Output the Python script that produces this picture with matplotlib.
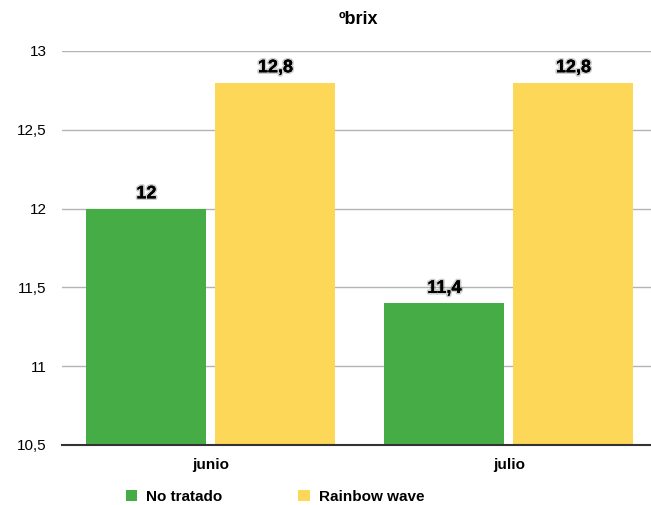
import matplotlib
matplotlib.use("Agg")
import matplotlib.pyplot as plt
import matplotlib.patheffects as pe
import numpy as np

months = ["junio", "julio"]
no_tratado = [12.0, 11.4]
rainbow = [12.8, 12.8]
yticks = [10.5, 11, 11.5, 12, 12.5, 13]

GREEN = "#46ac45"
YELLOW = "#fdd758"

plt.rcParams["font.family"] = ["Liberation Sans", "DejaVu Sans"]

fig = plt.figure(figsize=(6.51, 5.05), dpi=100)
# axes runs a bit past the right edge, as in the original export
ax = fig.add_axes([62 / 651, 60 / 505, 596 / 651, 394 / 505])

x = np.arange(len(months))
w = 0.403
b1 = ax.bar(x - 0.217, np.array(no_tratado) - 10.5, w, bottom=10.5, color=GREEN, zorder=3)
b2 = ax.bar(x + 0.216, np.array(rainbow) - 10.5, w, bottom=10.5, color=YELLOW, zorder=3)

for bars, vals in ((b1, no_tratado), (b2, rainbow)):
    for r, v in zip(bars, vals):
        t = ax.text(r.get_x() + r.get_width() / 2, v + 0.04, f"{v:g}".replace(".", ","),
                    ha="center", va="bottom", fontsize=13, fontweight="bold", zorder=5)
        t.set_path_effects([pe.withStroke(linewidth=2.5, foreground="#00000033"), pe.Normal()])

ax.set_xlim(-0.5, 1.5)
ax.set_ylim(10.5, 13)
ax.set_yticks(yticks)
ax.set_yticklabels([f"{v:g}".replace(".", ",") for v in yticks], fontsize=11)
ax.set_xticks(x)
ax.set_xticklabels(months, fontsize=11, fontweight="bold")
ax.tick_params(length=0, pad=9)
ax.tick_params(axis="y", pad=11)
ax.grid(axis="y", color="#b4b4b4", linewidth=1, zorder=0)
for s in ("top", "right", "left"):
    ax.spines[s].set_visible(False)
ax.spines["bottom"].set_color("#333333")
ax.spines["bottom"].set_linewidth(1.5)
ax.spines["bottom"].set_zorder(4)

fig.text(358 / 651, 1 - 19 / 505, "ºbrix", ha="center", va="center",
         fontsize=13, fontweight="bold")

fig.legend([b1, b2], ["No tratado", "Rainbow wave"], loc="center left",
           bbox_to_anchor=(112 / 651, 8 / 505), ncol=2, frameon=False,
           handlelength=0.75, handleheight=0.75, handletextpad=0.6, columnspacing=4.95,
           prop={"weight": "bold", "size": 11})

fig.savefig("out.png", dpi=100)
